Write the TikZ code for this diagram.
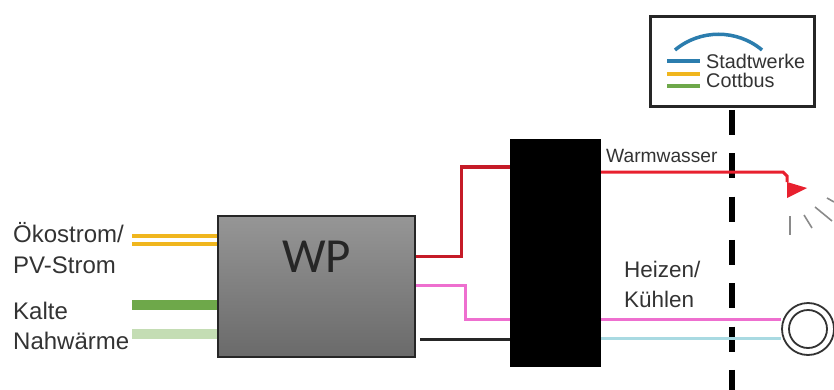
\documentclass[tikz,border=0pt]{standalone}
\usepackage{fontspec}
\setmainfont{Liberation Sans}
\newfontfamily\wpfont{Carlito}
\definecolor{txt}{HTML}{333333}
\definecolor{redline}{HTML}{E8202E}
\definecolor{pinkline}{HTML}{EE6FCF}
\definecolor{blueline}{HTML}{A9DAE2}
\definecolor{orangeline}{HTML}{F0B61E}
\definecolor{greenline}{HTML}{6EA84A}
\definecolor{lightgreen}{HTML}{C4DDB4}
\definecolor{raygray}{HTML}{8A8A8A}
\definecolor{logoblue}{HTML}{2B7DAE}
\definecolor{wptop}{HTML}{969696}
\definecolor{wpbot}{HTML}{6A6A6A}
\tikzset{
  lbl/.style={anchor=base west,inner sep=0pt,text=txt,font=\fontsize{24}{24}\selectfont},
  wire/.style={line width=3pt,line join=miter},
  feed/.style={line width=10pt},
  ray/.style={raygray,line width=1.6pt},
  coil/.style={circle,draw=black!80,line width=1.8pt,inner sep=0pt,fill=white},
}
\begin{document}
\begin{tikzpicture}[x=1pt,y=-1pt]
\useasboundingbox (0,0) rectangle (834,390);
% divider
\coordinate (dtop) at (732,110);
\coordinate (dbot) at (732,390);
\draw[line width=6pt,dash pattern=on 25pt off 18.3pt] (dtop) -- (dbot);
% logo box
\node[draw=black!85,line width=3pt,fill=white,minimum width=164pt,minimum height=90pt,inner sep=0pt] (logo) at (732,62) {};
\draw[logoblue,line width=3.5pt] (675,50) .. controls (700,29) and (737,29) .. (762,50);
\draw[logoblue,line width=3.5pt] (667,61) -- (700,61);
\draw[orangeline,line width=3.5pt] (667,74) -- (700,74);
\draw[greenline,line width=3.5pt] (667,86) -- (700,86);
\node[lbl,font=\fontsize{19.8}{20}\selectfont] (sw) at (706,69) {Stadtwerke};
\node[lbl,font=\fontsize{19.8}{20}\selectfont] (cb) at (706,88) {Cottbus};
% main boxes
\node[draw=black!85,line width=2pt,top color=wptop,bottom color=wpbot,minimum width=197pt,minimum height=141pt,inner sep=0pt] (wp) at (316.5,286.5) {};
\node[fill=black,minimum width=91pt,minimum height=228pt,inner sep=0pt] (speicher) at (555.5,253) {};
\node[anchor=base west,inner sep=0pt,text=black!85,font=\wpfont\fontsize{49}{49}\selectfont] (wpl) at (282,272) {WP};
% bulb and coil
\node[coil,minimum size=52pt] (coilout) at (808,329) {};
\node[coil,minimum size=38pt] (coilin) at (808,329) {};
\coordinate (bulbA) at (787,182);
\coordinate (bulbB) at (787,198);
\coordinate (bulbC) at (807,188);
\fill[redline] (bulbA) -- (bulbC) -- (bulbB) -- cycle;
\draw[ray] (790,216) -- (790,235);
\draw[ray] (804,215) -- (812,228);
\draw[ray] (815,207) -- (832,221);
\draw[ray] (827,198) -- (834,202);
% wires
\draw[wire,redline!85!black] (wp.east |- 0,256) -- (461,256) -- (461,167) -- (speicher.west |- 0,167);
\draw[wire,redline] (speicher.east |- 0,172) -- (783,172) -- (787,176) -- (bulbA);
\draw[wire,pinkline] (wp.east |- 0,285) -- (465,285) -- (465,319) -- (speicher.west |- 0,319);
\draw[wire,pinkline] (speicher.east |- 0,319) -- (coilout.west |- 0,319);
\draw[wire,black!85] (420,339) -- (speicher.west |- 0,339);
\draw[wire,blueline] (speicher.east |- 0,338) -- (coilout.west |- 0,338);
% feeds
\coordinate (feedstart) at (132,0);
\draw[orangeline,line width=4.5pt] (feedstart |- 0,236) -- (wp.west |- 0,236);
\draw[orangeline,line width=4.5pt] (feedstart |- 0,244) -- (wp.west |- 0,244);
\draw[feed,greenline] (feedstart |- 0,305) -- (wp.west |- 0,305);
\draw[feed,lightgreen] (feedstart |- 0,334) -- (wp.west |- 0,334);
% labels
\node[lbl] (l1) at (13,242) {Ökostrom/};
\node[lbl] (l2) at (13,273) {PV-Strom};
\node[lbl] (l3) at (13,319) {Kalte};
\node[lbl] (l4) at (13,349) {Nahwärme};
\node[lbl,font=\fontsize{19.2}{20}\selectfont] (l5) at (606,163) {Warmwasser};
\node[lbl,font=\fontsize{22.5}{23}\selectfont] (l6) at (624,277) {Heizen/};
\node[lbl,font=\fontsize{22.5}{23}\selectfont] (l7) at (624,307) {Kühlen};
\end{tikzpicture}
\end{document}
